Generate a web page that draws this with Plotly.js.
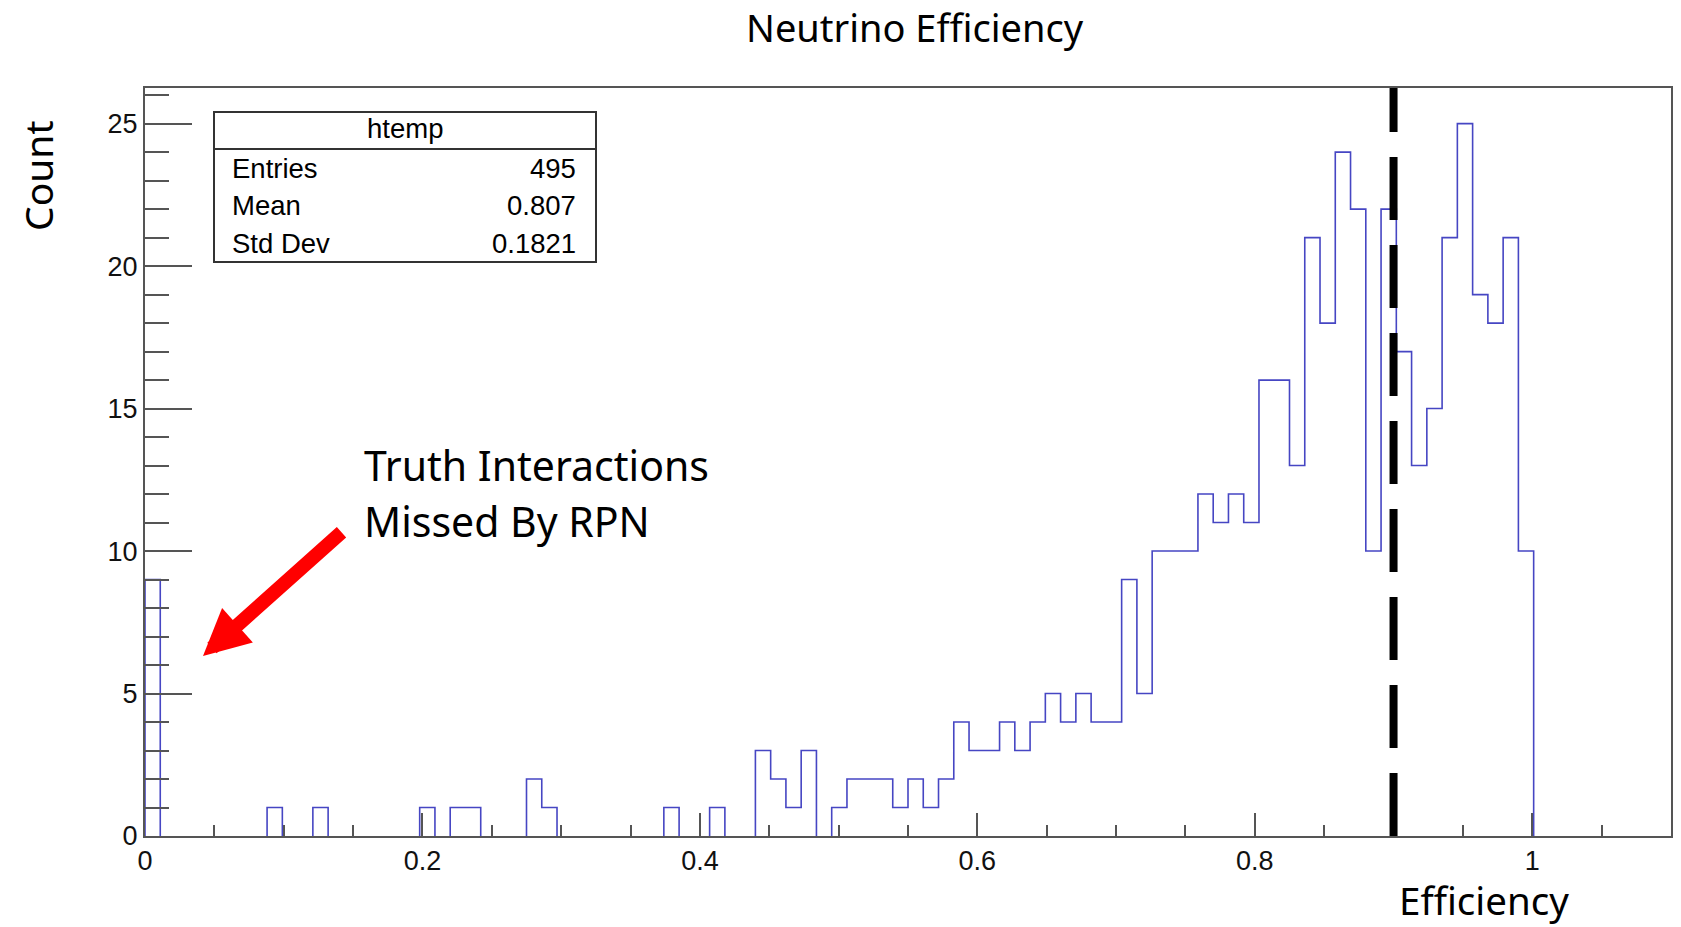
<!DOCTYPE html>
<html>
<head>
<meta charset="utf-8">
<script src="https://cdn.plot.ly/plotly-3.0.1.min.js"></script>
<style>html,body{margin:0;padding:0;background:#fff;}#chart{width:1681px;height:927px;}</style>
</head>
<body>
<div id="chart"></div>
<script>
// ---- Data ----
const histName = 'htemp';
const binCount = 100;
const xMin = 0.0;
const xMax = 1.1;
const counts = [
  9, 0, 0, 0, 0, 0, 0, 0, 1, 0,
  0, 1, 0, 0, 0, 0, 0, 0, 1, 0,
  1, 1, 0, 0, 0, 2, 1, 0, 0, 0,
  0, 0, 0, 0, 1, 0, 0, 1, 0, 0,
  3, 2, 1, 3, 0, 1, 2, 2, 2, 1,
  2, 1, 2, 4, 3, 3, 4, 3, 4, 5,
  4, 5, 4, 4, 9, 5, 10, 10, 10, 12,
  11, 12, 11, 16, 16, 13, 21, 18, 24, 22,
  10, 22, 17, 13, 15, 21, 25, 19, 18, 21,
  10, 0, 0, 0, 0, 0, 0, 0, 0, 0
];
const statLabels = ['Entries', 'Mean', 'Std Dev'];
const statValues = ['495', '0.807', '0.1821'];
const thresholdX = 0.9;
const yMaxRange = 26.25;
const xTickStep = 0.2;
const yTickStep = 5;
const titleText = 'Neutrino Efficiency';
const xTitle = 'Efficiency';
const yTitle = 'Count';
const noteLines = ['Truth Interactions', 'Missed By RPN'];

// ---- Build the step outline from bin edges (empty bins sit under the axis line) ----
const binW = (xMax - xMin) / binCount;
const edge = i => xMin + i * binW;
const hx = [], hy = [];
let prev = 0;
for (let i = 0; i <= binCount; i++) {
  const cur = i < binCount ? counts[i] : 0;
  if (prev > 0 || cur > 0) {
    hx.push(edge(i)); hy.push(prev);
    hx.push(edge(i)); hy.push(cur);
  }
  if (cur > 0) { hx.push(edge(i + 1)); hy.push(cur); }
  else { hx.push(null); hy.push(null); }
  prev = cur;
}

// ---- Geometry helpers ----
const W = 1681, H = 927;
const M = {l: 145, r: 10, t: 88, b: 91};
const PW = W - M.l - M.r, PH = H - M.t - M.b;
const px = v => (v - M.l) / PW;
const py = v => (H - M.b - v) / PH;

const axisCol = '#555';
const tickFont = {family: 'Liberation Sans, Arial, sans-serif', size: 27, color: '#111'};
const calFont = (s) => ({family: 'Noto Sans, sans-serif', size: s, color: '#000'});
const statFont = {family: 'Liberation Sans, Arial, sans-serif', size: 27.5, color: '#000'};

const trace = {
  type: 'scatter', mode: 'lines', x: hx, y: hy, connectgaps: false,
  line: {shape: 'linear', color: '#4646c3', width: 1.6},
  hoverinfo: 'skip', showlegend: false
};

const annotations = [
  {text: titleText, xref: 'paper', yref: 'paper', x: px(915), y: py(27),
   showarrow: false, xanchor: 'center', yanchor: 'middle', font: calFont(38)},
  {text: yTitle, xref: 'paper', yref: 'paper', x: px(37), y: py(176), textangle: -90,
   showarrow: false, xanchor: 'center', yanchor: 'middle', font: calFont(39)},
  {text: xTitle, xref: 'paper', yref: 'paper', x: px(1484), y: py(900),
   showarrow: false, xanchor: 'center', yanchor: 'middle', font: calFont(38.5)},
  {text: noteLines[0], xref: 'paper', yref: 'paper', x: px(362), y: py(465),
   showarrow: false, xanchor: 'left', yanchor: 'middle', font: calFont(41)},
  {text: noteLines[1], xref: 'paper', yref: 'paper', x: px(362), y: py(521),
   showarrow: false, xanchor: 'left', yanchor: 'middle', font: calFont(41)},
  {text: histName, xref: 'paper', yref: 'paper', x: px(405), y: py(128),
   showarrow: false, xanchor: 'center', yanchor: 'middle', font: statFont},
  // red arrow
  {text: '', xref: 'paper', yref: 'paper', x: px(203), y: py(656), ax: 140, ay: -125,
   axref: 'pixel', ayref: 'pixel', showarrow: true, arrowhead: 2, arrowsize: 0.66,
   arrowwidth: 14, arrowcolor: '#ff0000', standoff: 0}
];
const rowY = [168, 206, 243];
statLabels.forEach((lab, i) => {
  annotations.push({text: lab, xref: 'paper', yref: 'paper', x: px(230), y: py(rowY[i]),
    showarrow: false, xanchor: 'left', yanchor: 'middle', font: statFont});
  annotations.push({text: statValues[i], xref: 'paper', yref: 'paper', x: px(578), y: py(rowY[i]),
    showarrow: false, xanchor: 'right', yanchor: 'middle', font: statFont});
});

const shapes = [
  {type: 'rect', xref: 'paper', yref: 'paper', x0: px(214), x1: px(596), y0: py(262), y1: py(112),
   line: {color: '#333', width: 2}, fillcolor: '#fff', layer: 'above'},
  {type: 'line', xref: 'paper', yref: 'paper', x0: px(214), x1: px(596), y0: py(149), y1: py(149),
   line: {color: '#333', width: 2}, layer: 'above'},
  {type: 'line', xref: 'x', yref: 'y', x0: thresholdX, x1: thresholdX, y0: 0, y1: yMaxRange,
   line: {color: '#000', width: 8, dash: '63px,25px'}, layer: 'above'}
];

const layout = {
  width: W, height: H, margin: M,
  paper_bgcolor: '#fff', plot_bgcolor: '#fff',
  xaxis: {range: [xMin, xMax], tick0: 0, dtick: xTickStep, ticks: 'inside', ticklen: 23,
          tickwidth: 2, tickcolor: axisCol, showline: true, linecolor: axisCol, linewidth: 2,
          mirror: true, showgrid: false, zeroline: false, tickfont: tickFont,
          minor: {dtick: 0.05, tick0: 0, ticks: 'inside', ticklen: 11, tickwidth: 2,
                  tickcolor: axisCol, showgrid: false}},
  yaxis: {range: [0, yMaxRange], tick0: 0, dtick: yTickStep, ticks: 'inside', ticklen: 47,
          tickwidth: 2, tickcolor: axisCol, showline: true, linecolor: axisCol, linewidth: 2,
          mirror: true, showgrid: false, zeroline: false, tickfont: tickFont,
          minor: {dtick: 1, tick0: 0, ticks: 'inside', ticklen: 24, tickwidth: 2,
                  tickcolor: axisCol, showgrid: false}},
  annotations: annotations,
  shapes: shapes,
  showlegend: false
};

Plotly.newPlot('chart', [trace], layout, {displayModeBar: false, staticPlot: true});
</script>
</body>
</html>
